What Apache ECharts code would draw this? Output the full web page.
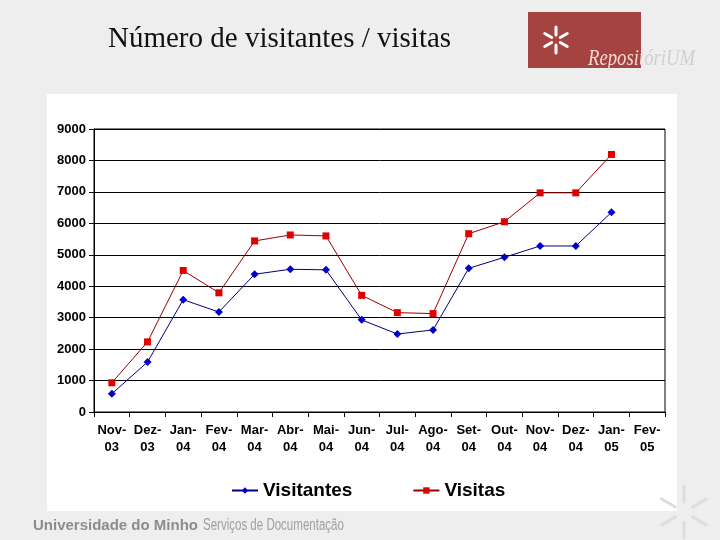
<!DOCTYPE html>
<html>
<head>
<meta charset="utf-8">
<script src="https://cdn.jsdelivr.net/npm/echarts@6/dist/echarts.min.js"></script>
<style>html,body{margin:0;padding:0;background:#eeeeee}#c{width:720px;height:540px}</style>
</head>
<body>
<div id="c"></div>
<script>
const categories = ['Nov-\n03','Dez-\n03','Jan-\n04','Fev-\n04','Mar-\n04','Abr-\n04','Mai-\n04','Jun-\n04','Jul-\n04','Ago-\n04','Set-\n04','Out-\n04','Nov-\n04','Dez-\n04','Jan-\n05','Fev-\n05'];
const visitantes = [580, 1590, 3570, 3180, 4380, 4540, 4520, 2930, 2480, 2610, 4570, 4920, 5280, 5280, 6350, null];
const visitas = [930, 2230, 4500, 3790, 5440, 5630, 5600, 3710, 3160, 3130, 5670, 6050, 6970, 6970, 8190, null];
const yTicks = [0, 1000, 2000, 3000, 4000, 5000, 6000, 7000, 8000, 9000];

const chart = echarts.init(document.getElementById('c'), null, {renderer: 'canvas'});

const cx = 556, cy = 40;
const spokes = [];
[-90, -150, -30, 90, 150, 30].forEach(a => {
  const r = a * Math.PI / 180;
  spokes.push({type: 'line', shape: {x1: cx + 5 * Math.cos(r), y1: cy + 5 * Math.sin(r), x2: cx + 13 * Math.cos(r), y2: cy + 13 * Math.sin(r)}, style: {stroke: '#ffffff', lineWidth: 3, lineCap: 'round'}, z: 5});
});
const fx = 684, fy = 512;
const faint = [];
[-90, -150, -30, 90, 150, 30].forEach(a => {
  const r = a * Math.PI / 180;
  faint.push({type: 'line', shape: {x1: fx + 10 * Math.cos(r), y1: fy + 10 * Math.sin(r), x2: fx + 26 * Math.cos(r), y2: fy + 26 * Math.sin(r)}, style: {stroke: '#dddddd', lineWidth: 3, lineCap: 'round'}, z: -5});
});

const axisFont = '"Liberation Sans", Arial, sans-serif';

chart.setOption({
  backgroundColor: '#eeeeee',
  animation: false,
  graphic: [
    {type: 'rect', shape: {x: 47, y: 94, width: 630, height: 417}, style: {fill: '#ffffff'}, z: -10},
    {type: 'text', x: 108, y: 25, style: {text: 'Número de visitantes / visitas', font: '29px "Liberation Serif", serif', fill: '#111111'}},
    {type: 'rect', shape: {x: 528, y: 12, width: 113, height: 56}, style: {fill: '#a4433f'}, z: 1},
    ...spokes,
    {type: 'text', x: 588, y: 47, scaleX: 0.78, originX: 0, originY: 0, style: {text: '{a|Reposit}{b|óriUM}', rich: {a: {fill: '#f2d8d6', font: 'italic 24px "Liberation Serif", serif'}, b: {fill: '#d0d0d0', font: 'italic 24px "Liberation Serif", serif'}}}, z: 6},
    ...faint,
    {type: 'text', x: 33, y: 518, style: {text: 'Universidade do Minho', fill: '#8c8c8c', font: 'bold 15px "Liberation Sans", sans-serif'}},
    {type: 'text', x: 203, y: 518, scaleX: 0.72, originX: 0, originY: 0, style: {text: 'Serviços de Documentação', fill: '#a0a0a0', font: '16px "Liberation Sans", sans-serif'}}
  ],
  grid: {left: 94, right: 55, top: 129, bottom: 128, show: true, borderColor: '#000000', borderWidth: 1, backgroundColor: '#ffffff'},
  legend: {
    left: 226, top: 476, itemGap: 60, itemWidth: 26, itemHeight: 8,
    textStyle: {fontFamily: axisFont, fontWeight: 'bold', fontSize: 19, color: '#000'},
    data: ['Visitantes', 'Visitas']
  },
  xAxis: {
    type: 'category', data: categories, boundaryGap: true,
    axisLine: {lineStyle: {color: '#000', width: 1}},
    axisTick: {show: true, length: 5, inside: false, lineStyle: {color: '#000'}},
    axisLabel: {interval: 0, margin: 10, fontFamily: axisFont, fontWeight: 'bold', fontSize: 13, color: '#000', lineHeight: 17},
    splitLine: {show: false}
  },
  yAxis: {
    type: 'value', min: 0, max: 9000, interval: 1000,
    axisLine: {show: true, lineStyle: {color: '#000'}},
    axisTick: {show: true, length: 5, lineStyle: {color: '#000'}},
    axisLabel: {margin: 8, fontFamily: axisFont, fontWeight: 'bold', fontSize: 13, color: '#000',
      formatter: v => yTicks.includes(v) ? String(v) : ''},
    splitLine: {show: true, lineStyle: {color: '#000', width: 1}}
  },
  series: [
    {name: 'Visitantes', type: 'line', data: visitantes, symbol: 'diamond', symbolSize: 8,
      itemStyle: {color: '#0000cc'}, lineStyle: {color: '#000080', width: 1}},
    {name: 'Visitas', type: 'line', data: visitas, symbol: 'rect', symbolSize: 7,
      itemStyle: {color: '#e00000'}, lineStyle: {color: '#990000', width: 1}}
  ]
});
</script>
</body>
</html>
